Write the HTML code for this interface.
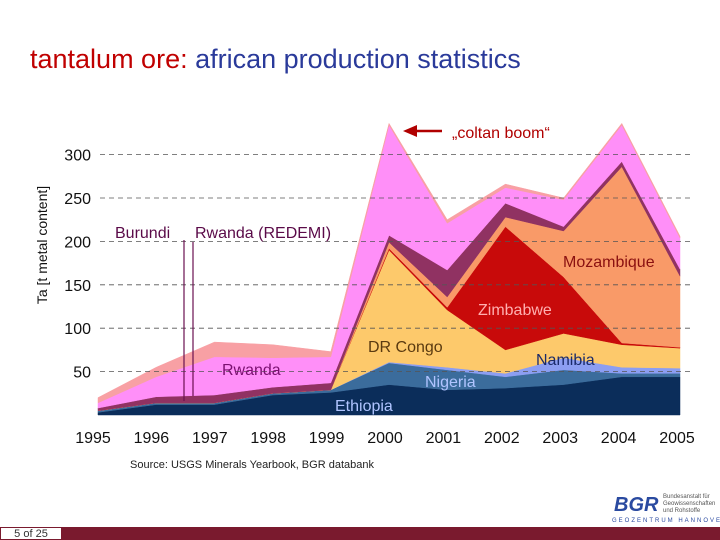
<!DOCTYPE html>
<html><head><meta charset="utf-8"><style>
body{margin:0;width:720px;height:540px;background:#fff;overflow:hidden;font-family:"Liberation Sans",Arial,sans-serif;position:relative}
.t{position:absolute;white-space:nowrap}
</style></head><body>
<div class="t" style="left:30px;top:44px;font-size:27px;color:#2a3a9a"><span style="color:#c00000">tantalum ore:</span> african production statistics</div>
<svg id="c" width="720" height="540" style="position:absolute;left:0;top:0"></svg>
<div class="t" style="left:130px;top:459px;font-size:11px;color:#222">Source: USGS Minerals Yearbook, BGR databank</div>
<div style="position:absolute;left:0;top:527px;width:720px;height:13px;background:#7a1a2e"></div>
<div class="t" style="left:0;top:527px;width:62px;height:13px;background:#fff;border:1px solid #7a1a2e;box-sizing:border-box;font-size:11px;line-height:12px;text-align:center;color:#333">5 of 25</div>
<div style="position:absolute;left:614px;top:494px;font-weight:bold;font-size:20px;color:#2a4aa0;font-style:italic">BGR</div>
<div class="t" style="left:663px;top:494px;font-size:6px;line-height:7px;color:#555">Bundesanstalt für<br>Geowissenschaften<br>und Rohstoffe</div>
<div class="t" style="left:612px;top:518px;font-size:6px;letter-spacing:2px;color:#2a4aa0">GEOZENTRUM HANNOVER</div>
<script>
const years=[1995,1996,1997,1998,1999,2000,2001,2002,2003,2004,2005];
const ethiopia=[3,12,12,23,26,35,29,31,35,44,44];
const nigeria=[2,2,2,2,3,25,23,13,17,4,4];
const namibia=[0,0,0,0,0,1,3,4,14,7,6];
const drCongo=[0,0,0,0,0,129,66,27,28,26,23];
const zimbabwe=[0,0,0,0,0,2,3,142,65,2,1];
const mozambique=[0,0,0,0,0,7,12,11,53,203,82];
const burundi=[3,7,9,7,8,8,31,16,5,6,8];
const rwanda=[6,23,44,34,30,127,54,18,31,42,36];
const rwandaRedemi=[6,11,17,15,6,2,4,4,2,2,2];
const yTicks=[50,100,150,200,250,300];
const xLabels=["1995","1996","1997","1998","1999","2000","2001","2002","2003","2004","2005"];
const series=[["ethiopia",ethiopia,"#0b2d5a"],["nigeria",nigeria,"#3b6c9c"],["namibia",namibia,"#8c9ef2"],["dr-congo",drCongo,"#fdc96b"],["zimbabwe",zimbabwe,"#c80a0a"],["mozambique",mozambique,"#f99a68"],["burundi",burundi,"#903262"],["rwanda",rwanda,"#ff8ff8"],["rwanda-redemi",rwandaRedemi,"#f8a0a4"]];
const NS="http://www.w3.org/2000/svg";
const svg=document.getElementById("c");
const X=i=>98+i*58.2, Y=v=>415-v*0.868;
function mk(t,a){const e=document.createElementNS(NS,t);for(const k in a)e.setAttribute(k,a[k]);svg.appendChild(e);return e;}
// stacked areas
let base=years.map(()=>0);
series.forEach(([n,vals,col])=>{
 const top=base.map((b,i)=>b+vals[i]);
 let d="M"+years.map((_,i)=>X(i)+","+Y(top[i])).join("L");
 for(let i=years.length-1;i>=0;i--)d+="L"+X(i)+","+Y(base[i]);
 const p=mk("path",{d:d+"Z",fill:col,stroke:col,"stroke-width":0.5});
 
 
 base=top;
});
// gridlines + ticks
yTicks.forEach(v=>{
 const l=mk("line",{x1:100,x2:690,y1:Y(v),y2:Y(v),stroke:"#555","stroke-dasharray":"5,4","stroke-width":0.8});
 
 
 const t=mk("text",{x:91,y:Y(v)+6,"text-anchor":"end","font-size":16,fill:"#111"});t.textContent=v;
 
 
});
xLabels.forEach((s,i)=>{
 const t=mk("text",{x:93+i*58.4,y:443,"text-anchor":"middle","font-size":16,fill:"#111"});t.textContent=s;
 
 
});
const yt=mk("text",{x:0,y:0,transform:"translate(47,245) rotate(-90)","text-anchor":"middle","font-size":14,fill:"#111"});yt.textContent="Ta [t metal content]";


// annotation lines
mk("line",{x1:184,x2:184,y1:240,y2:401,stroke:"#6a1050","stroke-width":1.2});
mk("line",{x1:193,x2:193,y1:242,y2:396,stroke:"#6a1050","stroke-width":1.2});
// arrow
mk("line",{x1:442,x2:415,y1:131,y2:131,stroke:"#b00000","stroke-width":2.5});
mk("path",{d:"M403,131 L417,125 L417,137Z",fill:"#b00000"});
const labels=[["coltan-boom-label","„coltan boom“",452,138,"#b00000"],["burundi-label","Burundi",115,238,"#5a0a48"],["rwanda-redemi-label","Rwanda (REDEMI)",195,238,"#5a0a48"],["mozambique-label","Mozambique",563,267,"#8a1010"],["zimbabwe-label","Zimbabwe",478,315,"#ffb0b0"],["dr-congo-label","DR Congo",368,352,"#5a3a10"],["rwanda-label","Rwanda",222,375,"#7a1070"],["namibia-label","Namibia",536,365,"#1a2a6a"],["nigeria-label","Nigeria",425,387,"#b0c4ff"],["ethiopia-label","Ethiopia",335,411,"#b0c4ff"]];
labels.forEach(([n,s,x,y,c])=>{
 const t=mk("text",{x:x,y:y,"font-size":16,fill:c});t.textContent=s;
 
 
});
</script>
</body></html>
